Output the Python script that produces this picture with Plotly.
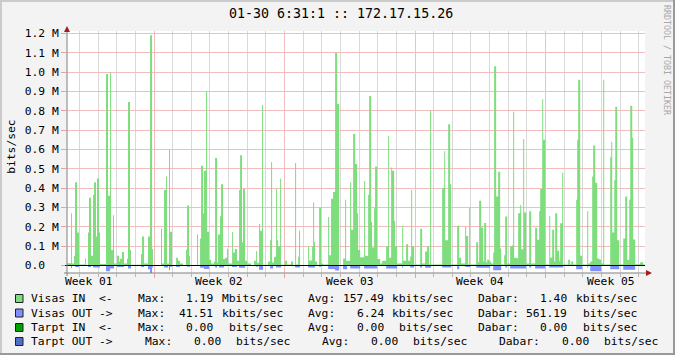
import plotly.graph_objects as go

# ---------------- data (hours since graph start, Mbit/s) ----------------
visas_in = [(0.0,0.012),(5.2,0.27),(6.4,0.01),(9.0,0.05),(10.3,0.43),(12.9,0.17),(15.5,0.005),(23.2,0.035),(24.5,0.0),(27.0,0.17),(28.3,0.35),(30.9,0.05),(33.5,0.365),(34.8,0.43),(37.3,0.15),(38.6,0.45),(41.2,0.17),(42.5,0.008),(50.2,0.99),(52.8,0.36),(55.4,0.997),(56.7,0.08),(59.2,0.26),(60.5,0.01),(64.4,0.05),(67.0,0.02),(68.2,0.035),(70.8,0.07),(73.4,0.01),(77.3,0.035),(78.5,0.845),(81.1,0.08),(82.4,0.004),(95.3,0.06),(96.6,0.15),(99.2,0.01),(104.3,0.15),(106.9,1.19),(109.5,0.085),(110.7,0.003),
(121.0,0.19),(122.3,0.01),(124.9,0.39),(127.5,0.46),(128.8,0.01),(131.3,0.6),(132.6,0.175),(135.2,0.003),(140.4,0.04),(142.9,0.025),(145.5,0.01),(149.4,0.003),(153.2,0.08),(154.5,0.31),(157.1,0.05),(158.4,0.003),(167.4,0.16),(168.7,0.003),(171.3,0.14),(172.6,0.515),(175.1,0.27),(176.4,0.49),(179.0,0.9),(180.3,0.175),(182.9,0.03),(185.4,0.01),(189.3,0.02),(190.6,0.555),(193.2,0.015),(194.4,0.16),(197.0,0.255),(198.3,0.42),(200.9,0.033),(203.5,0.04),(206.0,0.086),(207.3,0.01),(212.5,0.173),(213.8,0.067),(216.3,0.085),(218.9,0.025),(221.5,0.39),(222.8,0.57),(225.3,0.12),(226.6,0.395),(229.2,0.025),(231.8,0.01),(236.9,0.003),(240.8,0.025),(243.4,0.075),(244.7,0.014),(247.2,0.215),(248.5,0.18),(251.1,0.83),(252.4,0.004),(258.8,0.02),(261.4,0.13),(262.7,0.535),(264.0,0.015),(266.5,0.045),(269.1,0.395),(270.4,0.13),(271.7,0.1),(274.3,0.45),(275.6,0.004),(280.7,0.025),(283.3,0.005),
(288.4,0.02),(291.0,0.003),(293.6,0.53),(294.9,0.005),(297.5,0.045),(298.7,0.18),(300.0,0.003),(310.3,0.1),(311.6,0.026),(315.5,0.1),(316.8,0.325),(318.1,0.12),(319.3,0.02),(321.9,0.004),(324.5,0.3),(327.1,0.01),(329.6,0.005),(336.1,0.25),(337.4,0.053),(339.9,0.345),(342.5,0.38),(345.1,1.1),(347.7,0.835),(350.3,0.003),(355.4,0.036),(358.0,0.34),(359.3,0.025),(364.4,0.43),(365.7,0.185),(368.3,0.68),(370.9,0.525),(373.4,0.27),(374.7,0.08),(377.3,0.043),(382.4,0.437),(383.7,0.05),(387.6,0.365),(388.9,0.876),(391.5,0.225),(392.7,0.093),(395.3,0.296),(396.6,0.511),(399.2,0.033),(403.1,0.01),(405.6,0.025),(410.8,0.1),(413.4,0.67),(414.6,0.04),(417.2,0.506),(418.5,0.49),(421.1,0.23),(422.4,0.1),(424.9,0.01),(431.4,0.205),(432.7,0.025),(436.5,0.11),(439.1,0.025),(441.7,0.046),(443.0,0.39),(444.3,0.1),(446.8,0.005),(454.6,0.19),(457.1,0.01),(461.0,0.072),(463.6,0.1),(466.1,0.005),(467.4,0.8),(468.7,0.005),(482.9,0.4),(485.5,0.59),(486.8,0.13),(490.6,0.73),(493.2,0.42),(494.5,0.005),
(502.2,0.205),(504.8,0.04),(507.4,0.01),(512.5,0.2),(513.8,0.153),(516.4,0.005),(517.7,0.3),(518.9,0.005),(526.7,0.12),(529.2,0.017),(530.5,0.335),(533.1,0.196),(535.7,0.02),(537.0,0.22),(539.5,0.015),(540.8,0.03),(543.4,0.02),(546.0,0.01),(548.6,0.067),(549.8,1.03),(552.4,0.356),(555.0,0.484),(557.6,0.088),(558.9,0.005),(562.7,0.053),(564.0,0.253),(566.6,0.01),(570.4,0.1),(573.0,0.105),(574.3,0.795),(575.6,0.04),(579.5,0.036),(580.7,0.27),(583.3,0.313),(584.6,0.084),(587.2,0.654),(588.5,0.274),(591.0,0.01),(594.9,0.28),(597.5,0.01),(602.6,0.195),(605.2,0.133),(607.8,0.28),(609.1,0.395),(611.7,0.86),(612.9,0.65),(615.5,0.005),(620.7,0.256),(622.0,0.04),(624.5,0.185),(627.1,0.02),(628.4,0.27),(631.0,0.076),(633.5,0.025),(634.8,0.218),(637.4,0.479),(638.7,0.005),(645.1,0.03),(647.7,0.005),(649.0,0.02),(651.6,0.005),(655.4,0.34),(656.7,0.65),(658.0,0.96),(660.6,0.05),(663.2,0.005),(669.6,0.28),(670.9,0.01),(673.5,0.02),(676.0,0.46),(677.3,0.62),(679.9,0.427),(682.5,0.036),(685.1,0.031),(687.6,0.01),(690.2,0.96),(691.5,0.005),(699.2,0.56),(700.5,0.64),(701.8,0.17),(704.4,0.44),(705.7,0.82),(708.2,0.13),(710.8,0.005),(716.0,0.14),(718.5,0.356),(721.1,0.03),(723.7,0.34),(725.0,0.825),(727.6,0.66),(728.8,0.134),(731.4,0.007),(737.8,0.017),(741.7,0.005),(744.0,0.005)]

visas_out = [(0.0,-0.003),(5.2,-0.014),(6.4,-0.002),(10.3,-0.008),(15.5,-0.001),(27.0,-0.008),(30.9,-0.002),(33.5,-0.01),(42.5,-0.001),(50.2,-0.03),(55.4,-0.015),(60.5,-0.001),(64.4,-0.008),(73.4,-0.001),(78.5,-0.015),(82.4,-0.001),(95.3,-0.008),(99.2,-0.001),(104.3,-0.02),(106.9,-0.0415),(109.5,-0.01),(110.7,-0.001),(124.9,-0.01),(130.1,-0.001),(131.3,-0.025),(132.6,-0.006),(135.2,-0.001),(140.4,-0.008),(145.5,-0.001),(154.5,-0.006),(158.4,-0.001),(171.3,-0.012),(176.4,-0.018),(182.9,-0.003),(190.6,-0.01),(193.2,-0.002),(195.7,-0.01),(202.2,-0.002),(212.5,-0.008),(218.9,-0.002),(221.5,-0.012),(229.2,-0.002),(243.4,-0.006),(246.0,-0.002),(247.2,-0.022),(252.4,-0.001),(261.4,-0.015),(265.3,-0.002),(269.1,-0.01),(275.6,-0.001),(293.6,-0.01),(300.0,-0.001),(310.3,-0.01),(319.3,-0.001),(324.5,-0.006),(327.1,-0.001),(336.1,-0.018),(345.1,-0.026),(350.3,-0.001),(355.4,-0.02),(360.6,-0.002),(364.4,-0.015),(377.3,-0.003),(382.4,-0.015),(399.2,-0.003),(410.8,-0.015),(424.9,-0.001),(431.4,-0.01),(432.7,-0.001),(441.7,-0.01),(446.8,-0.001),(454.6,-0.01),(457.1,-0.001),(461.0,-0.012),(468.7,-0.001),(482.9,-0.01),(494.5,-0.001),(502.2,-0.02),(504.8,-0.001),(512.5,-0.008),(518.9,-0.001),(526.7,-0.012),(544.7,-0.001),(548.6,-0.025),(558.9,-0.001),(564.0,-0.01),(566.6,-0.001),(570.4,-0.015),(591.0,-0.001),(594.9,-0.01),(597.5,-0.001),(602.6,-0.015),(615.5,-0.001),(620.7,-0.01),(638.7,-0.001),(655.4,-0.02),(663.2,-0.001),(669.6,-0.01),(670.9,-0.001),(673.5,-0.03),(687.6,-0.002),(699.2,-0.02),(710.8,-0.001),(716.0,-0.022),(731.4,-0.001),(744.0,-0.001)]

tarpt_in = [(0.0, 0.0), (744.0, 0.0)]
tarpt_out = [(0.0, 0.0), (744.0, 0.0)]

week_label_hours = [28, 196, 364, 532, 700]
week_labels = ["Week 01", "Week 02", "Week 03", "Week 04", "Week 05"]
week_bounds = [112, 280, 448, 616]
day_marks = [16 + 24 * k for k in range(31) if (16 + 24 * k) not in (112, 280, 448, 616)]

y_ticks = [0.0, 0.1, 0.2, 0.3, 0.4, 0.5, 0.6, 0.7, 0.8, 0.9, 1.0, 1.1, 1.2]
y_ticktext = ["0.0\u00a0\u00a0"] + ["%.1f M" % v for v in y_ticks[1:]]

title_text = "01-30 6:31:1 :: 172.17.15.26"
series_names = ["Visas IN  <-", "Visas OUT ->", "Tarpt IN  <-", "Tarpt OUT ->"]
series_colors = ["#7EDE7E", "#7F8FFF", "#00A000", "#5070C8"]
max_vals = [("1.19", "Mbits/sec"), ("41.51", "kbits/sec"), ("0.00", "bits/sec"), ("0.00", "bits/sec")]
avg_vals = [("157.49", "kbits/sec"), ("6.24", "kbits/sec"), ("0.00", "bits/sec"), ("0.00", "bits/sec")]
last_vals = [("1.40", "kbits/sec"), ("561.19", "bits/sec"), ("0.00", "bits/sec"), ("0.00", "bits/sec")]

# ---------------- geometry helpers (page pixels -> paper) ----------------
W, H = 675, 355
L, R, T, B = 67, 645, 31, 273
def px(x):
    return (x - L) / (R - L)
def py(y):
    return (B - y) / (B - T)

MONO = "DejaVu Sans Mono"
FS = 11.3
PINK = "#F3BDBD"
GRAY = "#D9D9D9"

fig = go.Figure()
for data, col in [(visas_in, series_colors[0]), (visas_out, series_colors[1]),
                  (tarpt_in, series_colors[2]), (tarpt_out, series_colors[3])]:
    fig.add_trace(go.Scatter(
        x=[d[0] for d in data], y=[d[1] for d in data],
        mode="lines", line=dict(shape="hv", width=0, color=col),
        fill="tozeroy", fillcolor=col, hoverinfo="skip"))

shapes = []
# zero line
shapes.append(dict(type="line", xref="paper", yref="y", x0=px(65), x1=1, y0=0, y1=0,
                   line=dict(color="black", width=1), layer="above"))
# axis lines
shapes.append(dict(type="line", xref="paper", yref="paper", x0=px(67), x1=px(67), y0=py(276), y1=py(30),
                   line=dict(color="#808080", width=1), layer="above"))
shapes.append(dict(type="line", xref="paper", yref="paper", x0=px(64), x1=px(648), y0=py(273), y1=py(273),
                   line=dict(color="#808080", width=1), layer="above"))
# arrows
def tri(pts):
    return "M " + " L ".join("%f,%f" % (px(a), py(b)) for a, b in pts) + " Z"
shapes.append(dict(type="path", xref="paper", yref="paper", path=tri([(64, 32), (70, 32), (67, 26)]),
                   fillcolor="#A02020", line=dict(width=0), layer="above"))
shapes.append(dict(type="path", xref="paper", yref="paper", path=tri([(646, 270), (646, 276), (652, 273)]),
                   fillcolor="#A02020", line=dict(width=0), layer="above"))
# image border (shade)
for (x0, y0, x1, y1, c) in [(0, 0, 675, 2, "#CBCBCB"), (0, 0, 2, 355, "#CBCBCB"),
                            (0, 353, 675, 355, "#999999"), (673, 0, 675, 355, "#999999")]:
    shapes.append(dict(type="rect", xref="paper", yref="paper", x0=px(x0), x1=px(x1), y0=py(y0), y1=py(y1),
                       fillcolor=c, line=dict(width=0), layer="above"))

annotations = []
def txt(x, y, s, size=FS, color="black", xanchor="left", angle=0):
    annotations.append(dict(x=px(x), y=py(y), xref="paper", yref="paper", text=s, showarrow=False,
                            xanchor=xanchor, yanchor="middle", textangle=angle, borderpad=0,
                            font=dict(family=MONO, size=size, color=color)))

# title, watermark, y title
txt(341.3, 14, title_text, size=13.3, xanchor="center")
txt(667, 60, "RRDTOOL / TOBI OETIKER", size=8.3, color="#A8A8A8", xanchor="center", angle=90)
txt(10.8, 147, "bits/sec", xanchor="center", angle=-90)

# week labels
for h, s in zip(week_label_hours, week_labels):
    annotations.append(dict(x=h, y=py(281.5), xref="x", yref="paper", text=s, showarrow=False,
                            xanchor="center", yanchor="middle", borderpad=0,
                            font=dict(family=MONO, size=FS, color="black")))

# legend
row_y = [298.5, 313, 327.5, 341.5]
cols = [
    [30.7, 137.3, 185.7, 221.7, 307.3, 343.0, 391.7, 477.3, 540.0, 576.0],
    [30.7, 137.3, 179.0, 221.7, 307.3, 356.7, 391.7, 477.3, 525.5, 582.7],
    [30.7, 137.3, 185.7, 229.0, 307.3, 356.7, 398.3, 477.3, 540.0, 582.7],
    [30.7, 145.0, 193.3, 236.0, 321.7, 370.7, 412.7, 499.0, 561.7, 603.3],
]
for i in range(4):
    y = row_y[i]
    shapes.append(dict(type="rect", xref="paper", yref="paper", x0=px(15.5), x1=px(23), y0=py(y + 4), y1=py(y - 4),
                       fillcolor=series_colors[i], line=dict(color="#202020", width=1), layer="above"))
    parts = [series_names[i], "Max:", max_vals[i][0], max_vals[i][1], "Avg:", avg_vals[i][0], avg_vals[i][1],
             "Dabar:", last_vals[i][0], last_vals[i][1]]
    for x, s in zip(cols[i], parts):
        txt(x - 0.7, y, s.replace(" ", "\u00a0"))

fig.update_layout(
    width=W, height=H, margin=dict(l=L, r=W - R, t=T, b=H - B, pad=0),
    paper_bgcolor="#F3F3F3", plot_bgcolor="white", showlegend=False, hovermode=False,
    shapes=shapes, annotations=annotations,
    xaxis=dict(range=[0, 744], tickmode="array", tickvals=week_bounds, ticktext=[""] * len(week_bounds),
               showticklabels=False, showgrid=True, gridcolor=PINK, gridwidth=1,
               zeroline=False, showline=False, ticks="outside", ticklen=4, tickcolor="#EBA0A0",
               minor=dict(tickvals=day_marks, ticks="outside", ticklen=3, tickcolor="#B8B8B8",
                          showgrid=True, gridcolor=GRAY, gridwidth=1)),
    yaxis=dict(range=[-0.0388, 1.2119], tickvals=y_ticks, ticktext=y_ticktext, showgrid=True,
               gridcolor=PINK, gridwidth=1, zeroline=False,
               showline=False, ticks="outside", ticklen=5, tickcolor="#EBA0A0",
               tickfont=dict(family=MONO, size=FS, color="black")),
)

fig.write_html("out.html", config={"displayModeBar": False})
